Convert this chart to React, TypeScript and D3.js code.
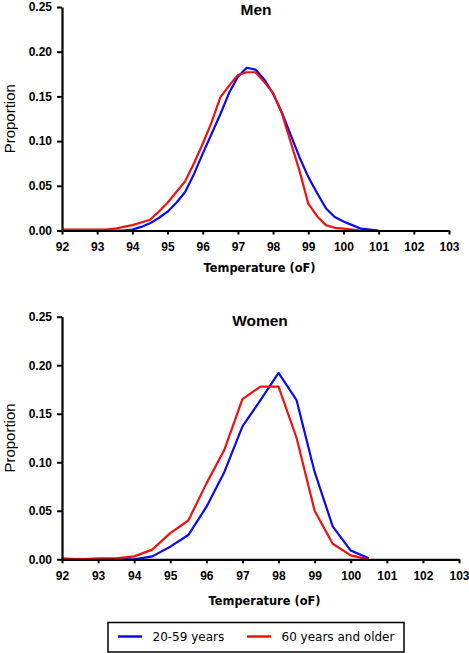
import React, { useEffect, useRef } from "react";
import * as d3 from "d3";

// ---------- DATA ----------
const menTemps = [
  92, 92.25, 92.5, 92.75, 93, 93.25, 93.5, 93.75, 94, 94.25, 94.5, 94.75,
  95, 95.25, 95.5, 95.75, 96, 96.25, 96.5, 96.75, 97, 97.25, 97.5, 97.75,
  98, 98.25, 98.5, 98.75, 99, 99.25, 99.5, 99.75, 100, 100.25, 100.5, 100.75, 101,
];
const menYoung = [
  0, 0, 0, 0, 0, 0, 0, 0, 0.001, 0.004, 0.008, 0.014,
  0.021, 0.031, 0.043, 0.063, 0.086, 0.108, 0.13, 0.154, 0.172, 0.182, 0.18, 0.169,
  0.153, 0.132, 0.107, 0.082, 0.06, 0.042, 0.025, 0.015, 0.01, 0.006, 0.002, 0.001, 0,
];
const menOld = [
  0.001, 0.001, 0.001, 0.001, 0.001, 0.001, 0.002, 0.004, 0.006, 0.009, 0.012, 0.021,
  0.031, 0.043, 0.055, 0.075, 0.097, 0.121, 0.149, 0.162, 0.174, 0.177, 0.177, 0.166,
  0.154, 0.131, 0.099, 0.067, 0.03, 0.016, 0.006, 0.003, 0.002, 0.001, 0, null, null,
];

const womenTemps = [
  92, 92.5, 93, 93.5, 94, 94.5, 95, 95.5, 96, 96.5, 97, 97.5, 98, 98.5, 99, 99.5, 100, 100.5,
];
const womenYoung = [
  0, 0, 0, 0, 0, 0.003, 0.013, 0.025, 0.054, 0.09, 0.137, 0.164, 0.192, 0.164, 0.09, 0.034, 0.009, 0.001,
];
const womenOld = [
  0.001, 0, 0.001, 0.001, 0.003, 0.01, 0.027, 0.04, 0.078, 0.113, 0.165, 0.178, 0.178, 0.125, 0.05, 0.016, 0.004, 0,
];

const xTicks = [92, 93, 94, 95, 96, 97, 98, 99, 100, 101, 102, 103];
const yTicks = [0, 0.05, 0.1, 0.15, 0.2, 0.25];
const seriesNames = ["20-59 years", "60 years and older"];
const seriesColors = ["#0a0af0", "#f01010"];

type PanelProps = {
  title: string;
  temps: number[];
  young: (number | null)[];
  old: (number | null)[];
  x0: number;
  x1: number;
  yBottom: number;
  yTop: number;
  titleY: number;
  titleX: number;
  labelOffset: number;
};

function Panel(p: PanelProps) {
  const xAxisRef = useRef<SVGGElement>(null);
  const yAxisRef = useRef<SVGGElement>(null);
  const x = d3.scaleLinear().domain([92, 103]).range([p.x0, p.x1]);
  const y = d3.scaleLinear().domain([0, 0.25]).range([p.yBottom, p.yTop]);

  useEffect(() => {
    const xa = d3
      .axisBottom(x)
      .tickValues(xTicks)
      .tickSize(4)
      .tickSizeOuter(0)
      .tickPadding(8)
      .tickFormat((d) => String(d));
    const ya = d3
      .axisLeft(y)
      .tickValues(yTicks)
      .tickSize(5)
      .tickSizeOuter(0)
      .tickPadding(5)
      .tickFormat(d3.format(".2f"));
    const gx = d3.select(xAxisRef.current!);
    gx.call(xa as any);
    const gy = d3.select(yAxisRef.current!);
    gy.call(ya as any);
    for (const g of [gx, gy]) {
      g.select(".domain").attr("stroke", "#000").attr("stroke-width", 2.2);
      g.selectAll(".tick line").attr("stroke", "#000").attr("stroke-width", 2);
      g.selectAll(".tick text")
        .attr("fill", "#000")
        .style("font-family", "Arial, 'Liberation Sans', sans-serif")
        .style("font-weight", "bold")
        .style("font-size", "12px");
    }
  });

  const mkLine = (vals: (number | null)[]) =>
    d3
      .line<number>()
      .defined((_, i) => vals[i] !== null && vals[i] !== undefined)
      .x((t) => x(t))
      .y((_, i) => y(vals[i] as number))(p.temps) || "";

  return (
    <g>
      <text
        x={p.titleX}
        y={p.titleY}
        textAnchor="middle"
        style={{ fontFamily: "Arial, 'Liberation Sans', sans-serif", fontWeight: "bold", fontSize: "15.5px" }}
      >
        {p.title}
      </text>
      <path d={mkLine(p.young)} fill="none" stroke={seriesColors[0]} strokeWidth={2.2} strokeLinejoin="round" />
      <path d={mkLine(p.old)} fill="none" stroke={seriesColors[1]} strokeWidth={2.2} strokeLinejoin="round" />
      <g ref={xAxisRef} transform={`translate(0,${p.yBottom})`} />
      <g ref={yAxisRef} transform={`translate(${p.x0},0)`} />
      <text
        transform={`translate(15,${(p.yBottom + p.yTop) / 2}) rotate(-90)`}
        textAnchor="middle"
        style={{ fontFamily: "Arial, 'Liberation Sans', sans-serif", fontSize: "15px" }}
      >
        Proportion
      </text>
      <text
        x={(p.x0 + p.x1) / 2 + 4}
        y={p.yBottom + p.labelOffset}
        textAnchor="middle"
        style={{ fontFamily: "'DejaVu Sans', sans-serif", fontWeight: "bold", fontSize: "11.4px" }}
      >
        Temperature (oF)
      </text>
    </g>
  );
}

export default function App() {
  return (
    <svg
      width={469}
      height={653}
      style={{ position: "absolute", left: 0, top: 0, background: "#fff" }}
    >
      <rect width={469} height={653} fill="#fff" />
      <Panel
        title="Men"
        temps={menTemps}
        young={menYoung}
        old={menOld}
        x0={62}
        x1={449}
        yBottom={230.5}
        yTop={7}
        titleX={256}
        titleY={15}
        labelOffset={41}
      />
      <Panel
        title="Women"
        temps={womenTemps}
        young={womenYoung}
        old={womenOld}
        x0={62}
        x1={459}
        yBottom={559.3}
        yTop={316.7}
        titleX={260}
        titleY={326}
        labelOffset={46}
      />
      <g>
        <rect x={108} y={622.5} width={296} height={29.5} fill="none" stroke="#000" strokeWidth={1.5} />
        {seriesNames.map((name, i) => {
          const lx = [118, 247][i];
          return (
            <g key={name}>
              <line x1={lx} x2={lx + 24} y1={636.5} y2={636.5} stroke={seriesColors[i]} strokeWidth={2.5} />
              <text
                x={lx + 34.5}
                y={640.8}
                style={{ fontFamily: "'DejaVu Sans', sans-serif", fontSize: "12px" }}
              >
                {name}
              </text>
            </g>
          );
        })}
      </g>
    </svg>
  );
}
